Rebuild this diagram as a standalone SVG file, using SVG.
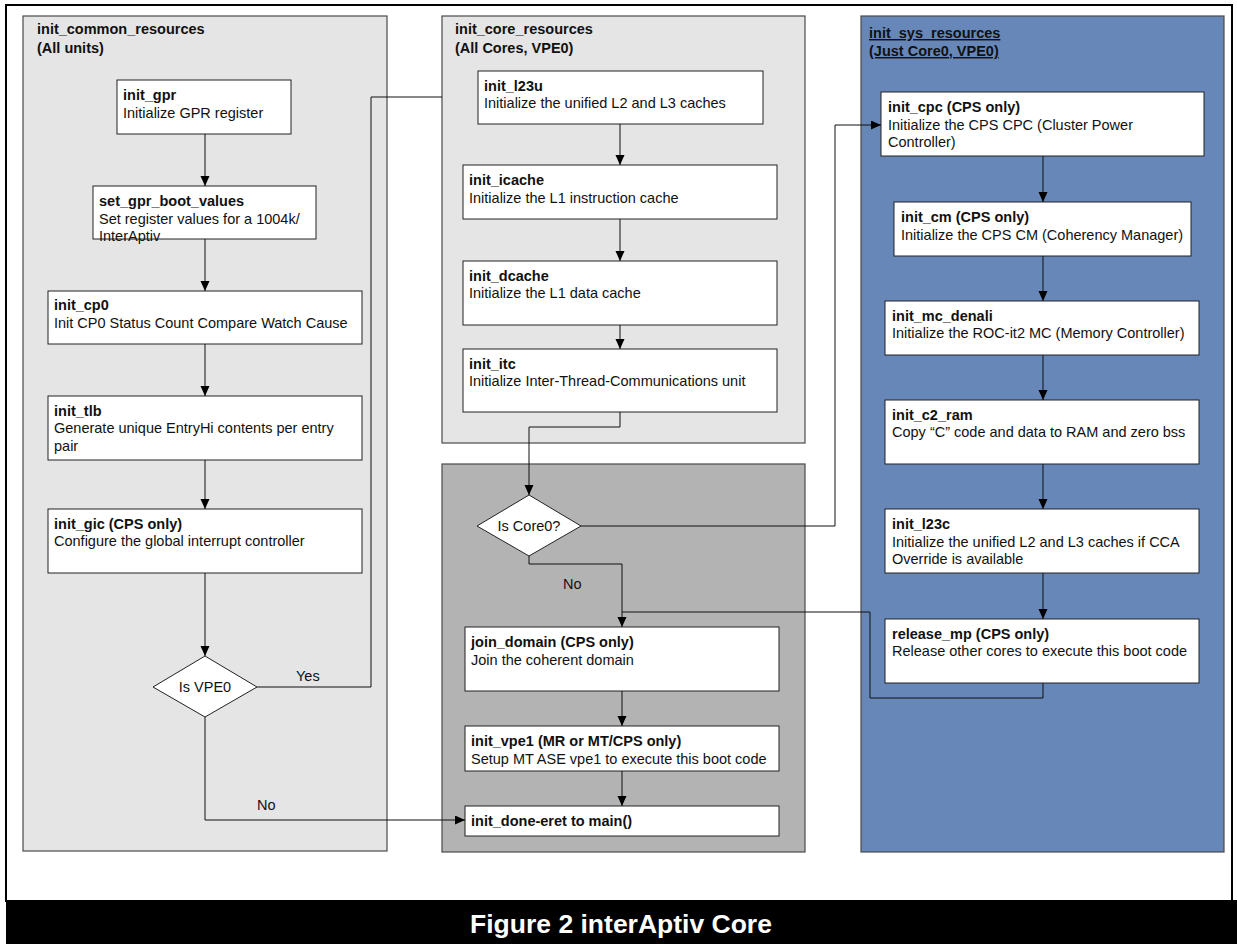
<svg xmlns="http://www.w3.org/2000/svg" width="1237" height="944" viewBox="0 0 1237 944">
<style>
text{font-family:"Liberation Sans",Arial,sans-serif;font-size:14.5px;fill:#111}
.b{font-weight:bold}
.panel{stroke:#4a4a4a;stroke-width:1.2}
.box{fill:#fff;stroke:#222;stroke-width:1}
.c{fill:none;stroke:#111;stroke-width:1}
.ul{text-decoration:underline}
</style>
<defs>
<marker id="ah" markerUnits="userSpaceOnUse" markerWidth="10" markerHeight="12" refX="10" refY="4.5" orient="auto">
<path d="M0,0 L10,4.5 L0,9 z" fill="#000"/>
</marker>
</defs>
<rect x="0" y="0" width="1237" height="944" fill="#fff"/>
<rect x="6" y="5" width="1226" height="896" fill="none" stroke="#000" stroke-width="2"/>
<rect x="6" y="900" width="1231" height="44" fill="#000"/>
<text x="621" y="933" text-anchor="middle" style="font-size:26.5px;font-weight:bold;fill:#fff">Figure 2 interAptiv Core</text>

<g id="panel-common">
<rect class="panel" x="23" y="16" width="364" height="835" fill="#e5e5e5"/>
<text class="b" x="37" y="34">init_common_resources</text>
<text class="b" x="37" y="53">(All units)</text>
</g>
<g id="panel-core">
<rect class="panel" x="442" y="16" width="363" height="427" fill="#e5e5e5"/>
<text class="b" x="455" y="34">init_core_resources</text>
<text class="b" x="455" y="53">(All Cores, VPE0)</text>
</g>
<g id="panel-core2">
<rect class="panel" x="442" y="464" width="363" height="388" fill="#b3b3b3"/>
</g>
<g id="panel-sys">
<rect class="panel" x="861" y="16" width="363" height="836" fill="#6787b8"/>
<text class="b ul" x="869" y="38">init_sys_resources</text>
<text class="b ul" x="869" y="56">(Just Core0, VPE0)</text>
</g>

<g id="n-init_gpr"><rect class="box" x="117" y="80" width="174" height="54"/><text class="b" x="123" y="100">init_gpr</text><text x="123" y="118">Initialize GPR register</text></g>
<g id="n-set_gpr_boot_values"><rect class="box" x="93" y="186" width="223" height="53"/><text class="b" x="99" y="206">set_gpr_boot_values</text><text x="99" y="224">Set register values for a 1004k/</text><text x="99" y="241">InterAptiv</text></g>
<g id="n-init_cp0"><rect class="box" x="48" y="291" width="314" height="53"/><text class="b" x="54" y="310">init_cp0</text><text x="54" y="328">Init CP0 Status Count Compare Watch Cause</text></g>
<g id="n-init_tlb"><rect class="box" x="48" y="396" width="314" height="64"/><text class="b" x="54" y="416">init_tlb</text><text x="54" y="433">Generate unique EntryHi contents per entry</text><text x="54" y="451">pair</text></g>
<g id="n-init_gic"><rect class="box" x="48" y="509" width="314" height="64"/><text class="b" x="54" y="529">init_gic (CPS only)</text><text x="54" y="546">Configure the global interrupt controller</text></g>
<g id="n-is_vpe0"><polygon class="box" points="205,656 257,687 205,717 153,687"/><text x="205" y="692" text-anchor="middle">Is VPE0</text></g>

<g id="n-init_l23u"><rect class="box" x="478" y="71" width="285" height="53"/><text class="b" x="484" y="91">init_l23u</text><text x="484" y="108">Initialize the unified L2 and L3 caches</text></g>
<g id="n-init_icache"><rect class="box" x="463" y="165" width="314" height="54"/><text class="b" x="469" y="185">init_icache</text><text x="469" y="203">Initialize the L1 instruction cache</text></g>
<g id="n-init_dcache"><rect class="box" x="463" y="261" width="314" height="64"/><text class="b" x="469" y="281">init_dcache</text><text x="469" y="298">Initialize the L1 data cache</text></g>
<g id="n-init_itc"><rect class="box" x="463" y="349" width="314" height="63"/><text class="b" x="469" y="369">init_itc</text><text x="469" y="386">Initialize Inter-Thread-Communications unit</text></g>
<g id="n-is_core0"><polygon class="box" points="529,495 581,526 529,556 477,526"/><text x="529" y="531" text-anchor="middle">Is Core0?</text></g>
<g id="n-join_domain"><rect class="box" x="465" y="627" width="314" height="64"/><text class="b" x="471" y="647">join_domain (CPS only)</text><text x="471" y="665">Join the coherent domain</text></g>
<g id="n-init_vpe1"><rect class="box" x="465" y="726" width="314" height="45"/><text class="b" x="471" y="746">init_vpe1 (MR or MT/CPS only)</text><text x="471" y="764">Setup MT ASE vpe1 to execute this boot code</text></g>
<g id="n-init_done"><rect class="box" x="465" y="806" width="314" height="30"/><text class="b" x="471" y="826">init_done-eret to main()</text></g>

<g id="n-init_cpc"><rect class="box" x="881" y="92" width="323" height="64"/><text class="b" x="888" y="112">init_cpc (CPS only)</text><text x="888" y="130">Initialize the CPS CPC (Cluster Power</text><text x="888" y="147">Controller)</text></g>
<g id="n-init_cm"><rect class="box" x="894" y="202" width="297" height="54"/><text class="b" x="901" y="222">init_cm (CPS only)</text><text x="901" y="240">Initialize the CPS CM (Coherency Manager)</text></g>
<g id="n-init_mc_denali"><rect class="box" x="885" y="301" width="314" height="54"/><text class="b" x="892" y="321">init_mc_denali</text><text x="892" y="338">Initialize the ROC-it2 MC (Memory Controller)</text></g>
<g id="n-init_c2_ram"><rect class="box" x="885" y="400" width="314" height="64"/><text class="b" x="892" y="420">init_c2_ram</text><text x="892" y="437">Copy “C” code and data to RAM and zero bss</text></g>
<g id="n-init_l23c"><rect class="box" x="885" y="509" width="314" height="64"/><text class="b" x="892" y="529">init_l23c</text><text x="892" y="547">Initialize the unified L2 and L3 caches if CCA</text><text x="892" y="564">Override is available</text></g>
<g id="n-release_mp"><rect class="box" x="885" y="619" width="314" height="64"/><text class="b" x="892" y="639">release_mp (CPS only)</text><text x="892" y="656">Release other cores to execute this boot code</text></g>

<g id="connectors">
<path class="c" d="M205,134 V186" marker-end="url(#ah)"/>
<path class="c" d="M205,239 V291" marker-end="url(#ah)"/>
<path class="c" d="M205,344 V396" marker-end="url(#ah)"/>
<path class="c" d="M205,460 V509" marker-end="url(#ah)"/>
<path class="c" d="M205,573 V656" marker-end="url(#ah)"/>
<path class="c" d="M257,687 H371 V97 H442"/>
<path class="c" d="M205,717 V820 H465" marker-end="url(#ah)"/>
<path class="c" d="M620,124 V165" marker-end="url(#ah)"/>
<path class="c" d="M620,219 V261" marker-end="url(#ah)"/>
<path class="c" d="M620,325 V349" marker-end="url(#ah)"/>
<path class="c" d="M620,412 V427 H529 V495" marker-end="url(#ah)"/>
<path class="c" d="M581,526 H835 V125 H881" marker-end="url(#ah)"/>
<path class="c" d="M529,556 V564 H622 V627" marker-end="url(#ah)"/>
<path class="c" d="M1043,683 V698 H870 V612 H622"/>
<path class="c" d="M622,691 V726" marker-end="url(#ah)"/>
<path class="c" d="M622,771 V806" marker-end="url(#ah)"/>
<path class="c" d="M1043,156 V202" marker-end="url(#ah)"/>
<path class="c" d="M1043,256 V301" marker-end="url(#ah)"/>
<path class="c" d="M1043,355 V400" marker-end="url(#ah)"/>
<path class="c" d="M1043,464 V509" marker-end="url(#ah)"/>
<path class="c" d="M1043,573 V619" marker-end="url(#ah)"/>
<text x="296" y="681">Yes</text>
<text x="257" y="810">No</text>
<text x="563" y="589">No</text>
</g>
</svg>
